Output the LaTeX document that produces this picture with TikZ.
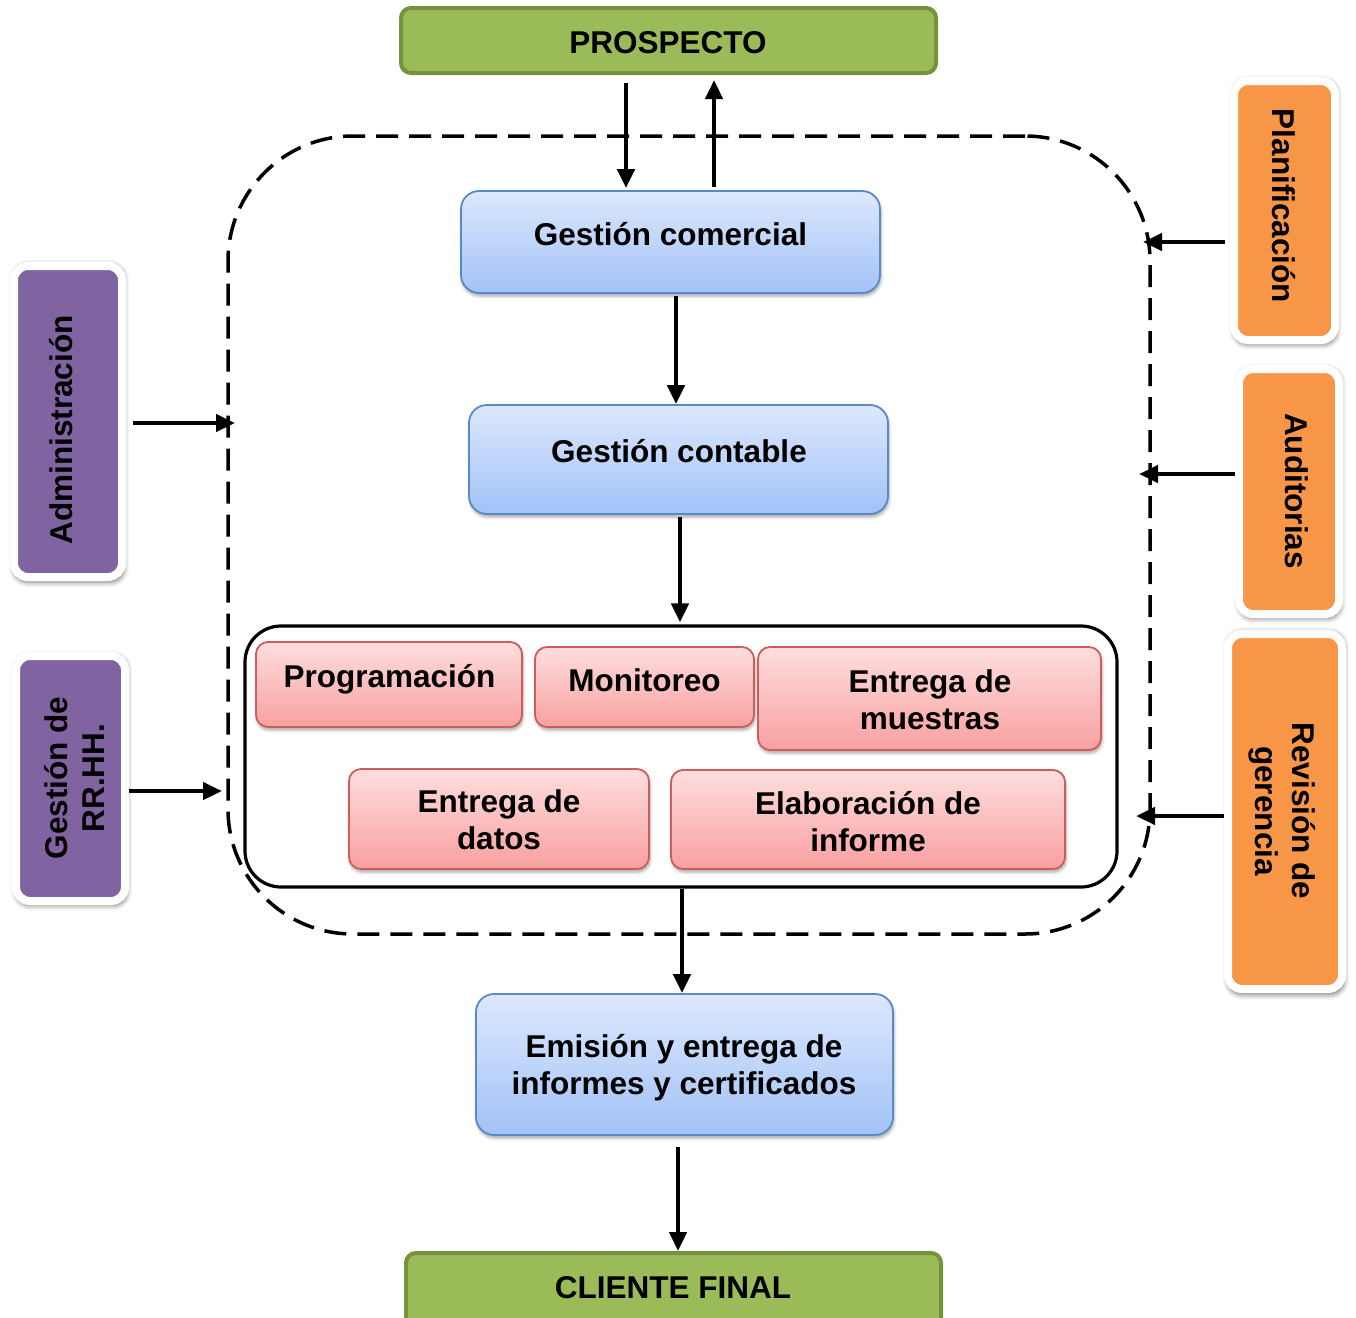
\documentclass[tikz,border=0pt]{standalone}
\usepackage{fontspec}
\setmainfont{Liberation Sans}
\usetikzlibrary{arrows.meta,shadows.blur}
\definecolor{grn}{HTML}{9BBB59}
\definecolor{grnd}{HTML}{76923C}
\definecolor{bltop}{HTML}{DCE8FC}
\definecolor{blbot}{HTML}{A2C2F7}
\definecolor{bldr}{HTML}{5A8AC6}
\definecolor{rdtop}{HTML}{FEDEDE}
\definecolor{rdbot}{HTML}{F8A0A0}
\definecolor{rddr}{HTML}{CD5C5A}
\definecolor{purp}{HTML}{8064A2}
\definecolor{orng}{HTML}{F79646}
\begin{document}
\begin{tikzpicture}[x=1pt,y=-1pt,
 txt/.style={font=\fontsize{31.5}{37}\selectfont\bfseries, inner sep=0pt, align=center},
 endbox/.style={draw=grnd, line width=4pt, fill=grn, rounded corners=10pt},
 bluebox/.style={draw=bldr, line width=1.8pt, top color=bltop, bottom color=blbot, rounded corners=18pt,
   blur shadow={shadow xshift=1pt, shadow yshift=-3pt, shadow blur radius=3pt, shadow opacity=35}},
 redbox/.style={draw=rddr, line width=1.8pt, top color=rdtop, bottom color=rdbot, rounded corners=12pt,
   blur shadow={shadow xshift=1pt, shadow yshift=-3pt, shadow blur radius=3pt, shadow opacity=35}},
 sidebox/.style={draw=white, line width=8pt, rounded corners=14pt,
   blur shadow={shadow xshift=1pt, shadow yshift=-2pt, shadow blur radius=5pt, shadow blur extra rounding=4pt, shadow opacity=55, shadow scale=1.02}},
 arr/.style={line width=4.5pt, -{Triangle[length=19pt,width=17pt]}},
]
\useasboundingbox (0,0) rectangle (1356,1317);
\begin{scope}
\clip (0,0) rectangle (1356,1317);
% enclosing dashed frame
\node[draw, line width=3.5pt, dash pattern=on 22pt off 11pt, rounded corners=125pt,
      minimum width=922pt, minimum height=798pt] (frame) at (689,535) {};
% inner frame
\node[draw, line width=3.2pt, rounded corners=36pt, minimum width=872pt, minimum height=261pt] (inner) at (681,756.5) {};

% end boxes
\node[endbox, minimum width=535pt, minimum height=65pt] (prosp) at (668.5,40.5) {};
\node[endbox, minimum width=535pt, minimum height=77pt] (cliente) at (673.5,1291.5) {};

% blue boxes
\node[bluebox, minimum width=419pt, minimum height=102pt] (gcom) at (670.5,242) {};
\node[bluebox, minimum width=419pt, minimum height=109pt] (gcon) at (678.5,459.5) {};
\node[bluebox, minimum width=417pt, minimum height=141pt] (emis) at (684.5,1064.5) {};

% red boxes
\node[redbox, minimum width=266pt, minimum height=85pt] (prog) at (389,684.5) {};
\node[redbox, minimum width=219pt, minimum height=80pt] (moni) at (644.5,687) {};
\node[redbox, minimum width=343pt, minimum height=103pt] (muest) at (929.5,698.5) {};
\node[redbox, minimum width=300pt, minimum height=100pt] (datos) at (499,819) {};
\node[redbox, minimum width=394pt, minimum height=99pt] (elab) at (868,819.5) {};

% side boxes
\node[sidebox, fill=purp, minimum width=108pt, minimum height=311pt] (adm) at (68,421.5) {};
\node[sidebox, fill=purp, minimum width=109pt, minimum height=245pt] (rrhh) at (70.5,778.5) {};
\node[sidebox, fill=orng, minimum width=101pt, minimum height=259pt] (plan) at (1284.5,210.5) {};
\node[sidebox, fill=orng, minimum width=100pt, minimum height=245pt] (audit) at (1289,491.5) {};
\node[sidebox, fill=orng, minimum width=114pt, minimum height=355pt] (rev) at (1285,811.5) {};

% texts
\node[txt, anchor=base] (prospt) at (668,53) {PROSPECTO};
\node[txt, anchor=base] (clientet) at (673,1298) {CLIENTE FINAL};
\node[txt, anchor=base] (gcomt) at (670.5,245) {Gestión comercial};
\node[txt, anchor=base] (gcont) at (679,462) {Gestión contable};
\node[txt, anchor=base] (progt) at (389.5,687) {Programación};
\node[txt, anchor=base] (monit) at (644.5,691) {Monitoreo};
\node[txt] (muestt) at (930,704) {\strut Entrega de\\\strut muestras};
\node[txt] (datost) at (499,824) {\strut Entrega de\\\strut datos};
\node[txt] (elabt) at (868,826) {\strut Elaboración de\\\strut informe};
\node[txt] (emist) at (684,1069) {\strut Emisión y entrega de\\\strut informes y certificados};
\node[txt, rotate=90, anchor=base] (admt) at (72.5,430) {Administración};
\node[txt, rotate=90] (rrhht) at (79,778) {\strut Gestión de\\\strut RR.HH.};
\node[txt, rotate=-90, anchor=base] (plant) at (1272,206) {Planificación};
\node[txt, rotate=-90, anchor=base] (auditt) at (1285,491) {Auditorias};
\node[txt, rotate=-90] (revt) at (1281,811) {\strut Revisión de\\\strut gerencia};

% coordinates for arrow positions
\coordinate (xd) at (626,0);
\coordinate (xu) at (714,0);
\coordinate (x1) at (676,0);
\coordinate (x2) at (680,0);
\coordinate (x3) at (682,0);
\coordinate (x4) at (678,0);
\coordinate (aA) at (235,423);
\coordinate (rA) at (222,791);
\coordinate (pA) at (1143,242);
\coordinate (uA) at (1139,474);
\coordinate (vA) at (1136,816);

% vertical arrows
\draw[arr, shorten <=8pt, shorten >=2pt] (prosp.south -| xd) -- (gcom.north -| xd);
\draw[arr, shorten <=3pt, shorten >=5pt] (gcom.north -| xu) -- (prosp.south -| xu);
\draw[arr, shorten <=2pt] (gcom.south -| x1) -- (gcon.north -| x1);
\draw[arr, shorten <=2pt, shorten >=2pt] (gcon.south -| x2) -- (inner.north -| x2);
\draw[arr] (inner.south -| x3) -- (emis.north -| x3);
\draw[arr, shorten <=11pt] (emis.south -| x4) -- (cliente.north -| x4);

% horizontal arrows
\draw[arr] ([xshift=7pt]adm.east |- aA) -- (aA);
\draw[arr] (rrhh.east |- rA) -- (rA);
\draw[arr] ([xshift=-5pt]plan.west |- pA) -- (pA);
\draw[arr] (audit.west |- uA) -- (uA);
\draw[arr] (rev.west |- vA) -- (vA);
\end{scope}
\end{tikzpicture}
\end{document}
